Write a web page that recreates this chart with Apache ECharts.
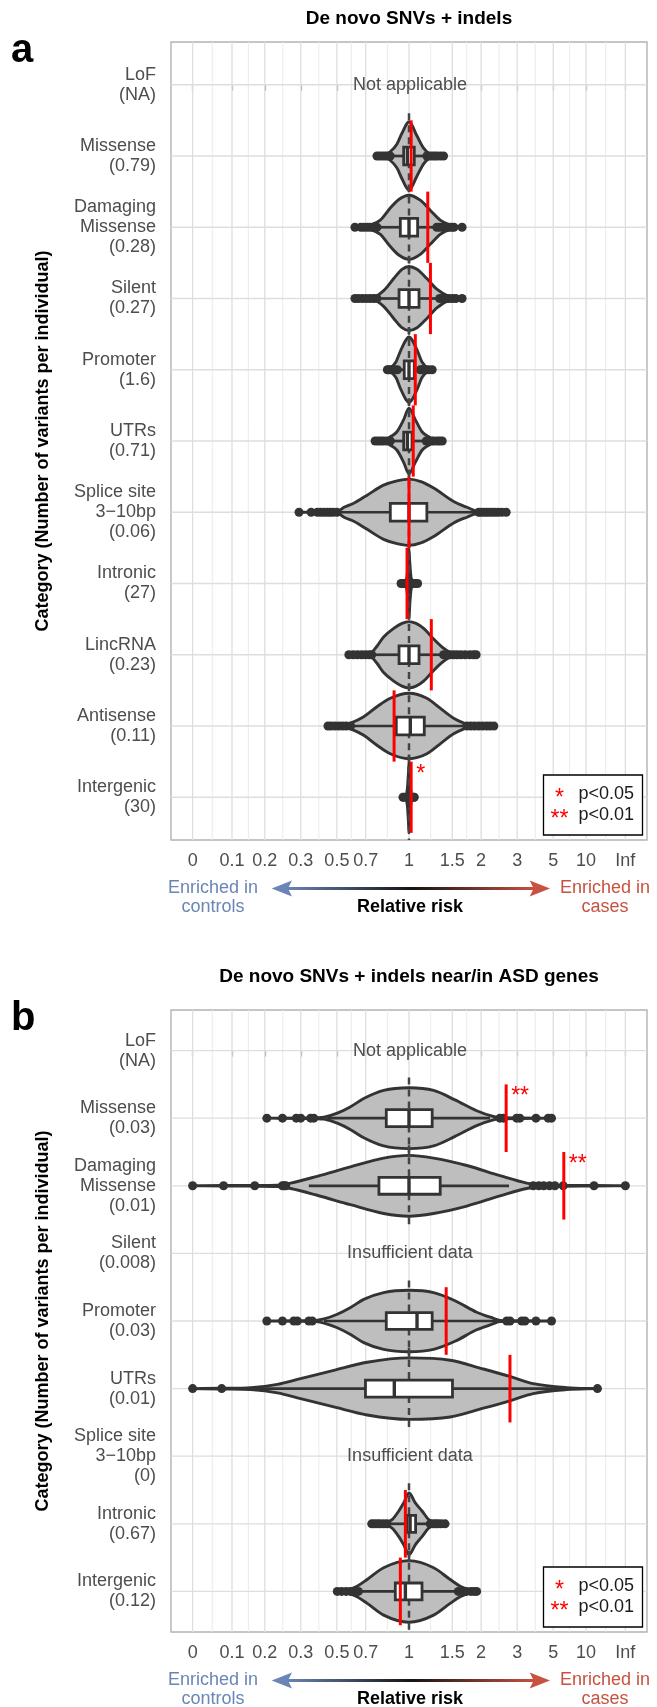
<!DOCTYPE html>
<html>
<head>
<meta charset="utf-8">
<title>De novo SNVs + indels</title>
<script src="https://cdn.jsdelivr.net/npm/echarts@6/dist/echarts.min.js"></script>
<style>
    * { margin: 0; padding: 0 }
    html, body { width: 100%; height: 100%; background: #fff; }
    #chart { width: 657px; height: 1707px; }
</style>
</head>
<body>
<div id="chart"></div>
<script>
const FONT = "'Liberation Sans', Arial, Helvetica, sans-serif";

// x axis: relative risk, drawn on a (rr-1)/(rr+1) scale
const tickLabels = ['0', '0.1', '0.2', '0.3', '0.5', '0.7', '1', '1.5', '2', '3', '5', '10', 'Inf'];
const tickRR = [0, 0.1, 0.2, 1 / 3, 0.5, 2 / 3, 1, 1.5, 2, 3, 5, 10, Infinity];

// ---- panel a ----
const catsA = ['LoF\n(NA)', 'Missense\n(0.79)', 'Damaging\nMissense\n(0.28)', 'Silent\n(0.27)', 'Promoter\n(1.6)',
    'UTRs\n(0.71)', 'Splice site\n3\u221210bp\n(0.06)', 'Intronic\n(27)', 'LincRNA\n(0.23)', 'Antisense\n(0.11)', 'Intergenic\n(30)'];
const violinRRA = [null,
    [0.742, 0.793, 0.84, 0.895, 0.937, 1.0, 1.077, 1.145, 1.2, 1.295, 1.38],
    [0.60, 0.655, 0.697, 0.766, 0.841, 0.91, 1.0, 1.11, 1.217, 1.337, 1.47, 1.55, 1.65],
    [0.60, 0.66, 0.72, 0.79, 0.868, 0.937, 1.0, 1.077, 1.18, 1.295, 1.47, 1.55, 1.65],
    [0.818, 0.831, 0.886, 0.926, 0.973, 1.0, 1.028, 1.08, 1.128, 1.203, 1.24],
    [0.729, 0.793, 0.841, 0.895, 0.952, 1.0, 1.06, 1.128, 1.2, 1.26, 1.363],
    [0.326, 0.405, 0.502, 0.538, 0.596, 0.676, 0.79, 0.895, 1.0, 1.117, 1.257, 1.52, 1.73, 1.953, 2.63],
    [0.929, 0.95, 0.98, 0.993, 1.0, 1.007, 1.02, 1.05, 1.083],
    [0.565, 0.64, 0.689, 0.742, 0.79, 0.868, 0.937, 1.0, 1.067, 1.145, 1.257, 1.358, 1.47, 1.524, 1.7, 1.9],
    [0.455, 0.5, 0.538, 0.575, 0.654, 0.742, 0.841, 1.0, 1.18, 1.337, 1.52, 1.68, 1.79, 2.0, 2.29],
    [0.946, 0.965, 0.985, 0.995, 1.0, 1.005, 1.015, 1.035, 1.05]];
const violinWA = [null,
    [0, 0.01, 0.06, 0.17, 0.32, 0.48, 0.28, 0.11, 0.04, 0.01, 0],
    [0, 0.01, 0.03, 0.1, 0.27, 0.39, 0.45, 0.38, 0.24, 0.1, 0.03, 0.01, 0],
    [0, 0.01, 0.02, 0.11, 0.28, 0.41, 0.45, 0.41, 0.28, 0.13, 0.02, 0.01, 0],
    [0, 0.01, 0.11, 0.27, 0.42, 0.46, 0.42, 0.27, 0.11, 0.01, 0],
    [0, 0.01, 0.06, 0.13, 0.3, 0.46, 0.3, 0.13, 0.06, 0.01, 0],
    [0, 0.005, 0.01, 0.07, 0.13, 0.24, 0.38, 0.44, 0.465, 0.43, 0.34, 0.15, 0.07, 0.01, 0],
    [0, 0.01, 0.08, 0.3, 0.49, 0.3, 0.08, 0.01, 0],
    [0, 0.005, 0.01, 0.12, 0.25, 0.37, 0.44, 0.465, 0.44, 0.37, 0.22, 0.11, 0.03, 0.01, 0.005, 0],
    [0, 0.005, 0.01, 0.04, 0.13, 0.27, 0.39, 0.46, 0.39, 0.25, 0.11, 0.04, 0.01, 0.005, 0],
    [0, 0.01, 0.12, 0.35, 0.5, 0.35, 0.12, 0.01, 0]];
const boxA = [null, [0.952, 0.985, 1.05], [0.923, 1.0, 1.083], [0.912, 1.0, 1.097], [0.957, 1.0, 1.05],
    [0.952, 0.985, 1.028], [0.841, 1.0, 1.18], [0.99, 1.0, 1.01], [0.912, 1.0, 1.097], [0.889, 1.012, 1.152], [0.995, 1.0, 1.005]];
const whiskA = [null, [0.84, 1.18], [0.742, 1.295], [0.742, 1.33], [0.898, 1.11], [0.841, 1.173],
    [0.5, 1.95], [0.96, 1.04], [0.706, 1.38], [0.575, 1.73], [0.97, 1.03]];
const outA = [null,
    [0.742, 0.76, 0.78, 0.80, 0.82, 0.84, 1.18, 1.21, 1.24, 1.27, 1.30, 1.34, 1.38],
    [0.60, 0.636, 0.655, 0.675, 0.695, 0.715, 0.742, 1.295, 1.33, 1.37, 1.41, 1.45, 1.49, 1.524, 1.65],
    [0.60, 0.62, 0.645, 0.67, 0.695, 0.72, 0.742, 1.33, 1.37, 1.41, 1.45, 1.5, 1.55, 1.65],
    [0.818, 0.83, 0.845, 0.86, 0.875, 0.898, 1.11, 1.13, 1.15, 1.17, 1.2, 1.24],
    [0.729, 0.75, 0.77, 0.79, 0.815, 0.841, 1.173, 1.2, 1.23, 1.26, 1.3, 1.33, 1.363],
    [0.326, 0.377, 0.405, 0.42, 0.435, 0.45, 0.465, 0.48, 0.5, 1.95, 2.0, 2.06, 2.12, 2.18, 2.25, 2.32, 2.4, 2.5, 2.63],
    [0.929, 0.945, 0.96, 1.04, 1.06, 1.083],
    [0.565, 0.59, 0.615, 0.64, 0.665, 0.69, 0.706, 1.38, 1.42, 1.47, 1.52, 1.57, 1.63, 1.7, 1.78, 1.85, 1.9],
    [0.455, 0.47, 0.49, 0.51, 0.53, 0.55, 0.575, 1.73, 1.8, 1.87, 1.95, 2.03, 2.12, 2.2, 2.29],
    [0.946, 0.955, 1.045, 1.05]];
const obsA = [null, 1.02, 1.19, 1.22, 1.06, 1.04, 1.0, 0.982, 1.23, 0.871, 1.02];
const starA = ['', '', '', '', '', '', '', '', '', '', '*'];
const noteA = ['Not applicable', '', '', '', '', '', '', '', '', '', ''];

// ---- panel b ----
const catsB = ['LoF\n(NA)', 'Missense\n(0.03)', 'Damaging\nMissense\n(0.01)', 'Silent\n(0.008)', 'Promoter\n(0.03)',
    'UTRs\n(0.01)', 'Splice site\n3\u221210bp\n(0)', 'Intronic\n(0.67)', 'Intergenic\n(0.12)'];
const violinRRB = [null,
    [0.207, 0.333, 0.40, 0.436, 0.502, 0.575, 0.654, 0.79, 1.0, 1.257, 1.54, 1.91, 2.28, 2.45, 3.1, 4.86],
    [0, 0.077, 0.1676, 0.244, 0.293, 0.404, 0.574, 0.79, 1.0, 1.257, 1.73, 2.45, 3.385, 4.06, 5.96, 12.8, Infinity],
    null,
    [0.207, 0.319, 0.40, 0.436, 0.502, 0.575, 0.654, 0.79, 1.0, 1.257, 1.54, 1.91, 2.28, 2.45, 3.31, 4.86],
    [0, 0.072, 0.155, 0.244, 0.332, 0.484, 0.676, 1.0, 1.47, 2.048, 2.75, 3.7, 6.36, 14.5],
    null,
    [0.706, 0.79, 0.855, 0.91, 0.952, 1.0, 1.06, 1.128, 1.2, 1.295, 1.4],
    [0.502, 0.555, 0.613, 0.676, 0.79, 1.0, 1.257, 1.47, 1.62, 1.79, 1.91]];
const violinWB = [null,
    [0, 0.004, 0.008, 0.015, 0.074, 0.17, 0.29, 0.41, 0.45, 0.41, 0.27, 0.11, 0.025, 0.01, 0.004, 0],
    [0, 0.004, 0.006, 0.01, 0.04, 0.14, 0.28, 0.41, 0.45, 0.41, 0.3, 0.15, 0.04, 0.015, 0.006, 0.004, 0],
    null,
    [0, 0.004, 0.01, 0.03, 0.1, 0.2, 0.32, 0.42, 0.455, 0.42, 0.3, 0.13, 0.04, 0.01, 0.004, 0],
    [0, 0.005, 0.015, 0.063, 0.147, 0.27, 0.39, 0.455, 0.42, 0.29, 0.18, 0.074, 0.015, 0],
    null,
    [0, 0.015, 0.063, 0.19, 0.31, 0.455, 0.31, 0.19, 0.063, 0.015, 0],
    [0, 0.022, 0.078, 0.177, 0.35, 0.455, 0.35, 0.177, 0.078, 0.022, 0]];
const boxB = [null, [0.81, 1.0, 1.24], [0.756, 1.0, 1.337], null, [0.81, 1.077, 1.24],
    [0.665, 0.873, 1.503], null, [0.982, 1.01, 1.063], [0.881, 0.967, 1.128]];
const whiskB = [null, [0.451, 2.198], [0.367, 2.72], null, [0.436, 2.365], [0.072, 14.5], null, [0.815, 1.217], [0.621, 1.59]];
const outB = [null,
    [0.207, 0.262, 0.315, 0.333, 0.375, 0.389, 2.45, 2.55, 2.98, 3.1, 3.84, 4.61, 4.86],
    [0, 0.077, 0.1676, 0.262, 0.268, 0.274, 3.7, 4.0, 4.3, 4.7, 5.14, 5.96, 12.8, Infinity],
    null,
    [0.207, 0.262, 0.305, 0.319, 0.367, 0.382, 2.647, 2.75, 3.174, 3.31, 3.84, 4.86],
    [0, 0.072, 14.5],
    null,
    [0.706, 0.725, 0.745, 0.765, 0.79, 0.815, 1.217, 1.25, 1.28, 1.31, 1.35, 1.4],
    [0.502, 0.525, 0.55, 0.575, 0.6, 0.621, 1.59, 1.65, 1.72, 1.8, 1.86, 1.91]];
const obsB = [null, 2.63, 6.03, null, 1.415, 2.75, null, 0.967, 0.923];
const starB = ['', '**', '**', '', '', '', '', '', ''];
const noteB = ['Not applicable', '', '', 'Insufficient data', '', '', 'Insufficient data', '', ''];

const toT = rr => rr === Infinity ? 1 : (rr - 1) / (rr + 1);
const tickT = tickRR.map(toT);
const minorT = tickT.slice(1).map((t, i) => (t + tickT[i]) / 2);

const PLOT_LEFT = 171, PLOT_W = 476;
const panels = [
    { letter: 'a', title: 'De novo SNVs + indels', titleY: 18.5, top: 42, height: 798,
      cats: catsA, violinRR: violinRRA, violinW: violinWA, box: boxA, whisk: whiskA, out: outA, obs: obsA, star: starA, note: noteA },
    { letter: 'b', title: 'De novo SNVs + indels near/in ASD genes', titleY: 977, top: 1010, height: 622,
      cats: catsB, violinRR: violinRRB, violinW: violinWB, box: boxB, whisk: whiskB, out: outB, obs: obsB, star: starB, note: noteB }
];

function labelFor(v) {
    let best = 0;
    tickT.forEach((t, i) => { if (Math.abs(t - v) < Math.abs(tickT[best] - v)) best = i; });
    return tickLabels[best];
}

function line(x1, y1, x2, y2, stroke, lineWidth, dash) {
    return { type: 'line', shape: { x1, y1, x2, y2 }, style: { stroke, lineWidth, lineDash: dash || null } };
}

// monotone cubic tangents, keeps the violin outline from overshooting
function tangents(xs, ys) {
    const n = xs.length, d = [], m = [];
    for (let i = 0; i < n - 1; i++) d.push((ys[i + 1] - ys[i]) / Math.max(xs[i + 1] - xs[i], 1e-6));
    m[0] = d[0]; m[n - 1] = d[n - 2];
    for (let i = 1; i < n - 1; i++) m[i] = d[i - 1] * d[i] <= 0 ? 0 : (d[i - 1] + d[i]) / 2;
    for (let i = 0; i < n - 1; i++) {
        if (d[i] === 0) { m[i] = 0; m[i + 1] = 0; continue; }
        const a = m[i] / d[i], b = m[i + 1] / d[i], s = a * a + b * b;
        if (s > 9) { const k = 3 / Math.sqrt(s); m[i] = k * a * d[i]; m[i + 1] = k * b * d[i]; }
    }
    return m;
}

function violinPath(xs, hs, cy) {
    const n = xs.length;
    const yt = hs.map(h => cy - h);
    const m = tangents(xs, yt);
    let s = 'M' + xs[0] + ',' + yt[0];
    for (let i = 0; i < n - 1; i++) {
        const h = (xs[i + 1] - xs[i]) / 3;
        s += ' C' + (xs[i] + h) + ',' + (yt[i] + m[i] * h) + ' ' + (xs[i + 1] - h) + ',' + (yt[i + 1] - m[i + 1] * h) + ' ' + xs[i + 1] + ',' + yt[i + 1];
    }
    for (let i = n - 2; i >= 0; i--) {
        const h = (xs[i + 1] - xs[i]) / 3;
        const yb0 = cy + hs[i], yb1 = cy + hs[i + 1];
        s += ' C' + (xs[i + 1] - h) + ',' + (yb1 + m[i + 1] * h) + ' ' + (xs[i] + h) + ',' + (yb0 - m[i] * h) + ' ' + xs[i] + ',' + yb0;
    }
    return s + ' Z';
}

function panelSeries(p, gi) {
    const ax = { xAxisIndex: gi, yAxisIndex: gi, silent: true, animation: false };
    const used = p.cats.map((c, k) => k).filter(k => p.violinRR[k]);
    const outData = [];
    used.forEach(k => p.out[k].forEach(v => outData.push([toT(v), k])));
    const notes = p.cats.map((c, k) => k).filter(k => p.note[k]);
    const stars = used.filter(k => p.star[k]);
    return [
        Object.assign({ type: 'custom', z: 1, data: [[0, 0]], renderItem: (params, api) => {
            const cs = params.coordSys, kids = [];
            minorT.forEach(t => { const x = api.coord([t, 0])[0]; kids.push(line(x, cs.y, x, cs.y + cs.height, '#ebebeb', 1)); });
            tickT.forEach(t => { const x = api.coord([t, 0])[0]; kids.push(line(x, cs.y, x, cs.y + cs.height, '#dedede', 1.3)); });
            p.cats.forEach((c, k) => { const y = api.coord([0, k])[1]; kids.push(line(cs.x, y, cs.x + cs.width, y, '#dedede', 1.3)); });
            return { type: 'group', children: kids };
        } }, ax),
        Object.assign({ type: 'custom', z: 2, data: used.map(k => [0, k]), renderItem: (params, api) => {
            const k = api.value(1);
            const band = api.size([0, 1])[1];
            const cy = api.coord([0, k])[1];
            const xs = p.violinRR[k].map(v => api.coord([toT(v), k])[0]);
            const hs = p.violinW[k].map(w => w * band);
            return { type: 'path', shape: { pathData: violinPath(xs, hs, cy) },
                style: { fill: '#bebebe', stroke: '#333', lineWidth: 2.9, lineJoin: 'round' } };
        } }, ax),
        Object.assign({ type: 'custom', z: 3, data: used.map(k => [0, k]), renderItem: (params, api) => {
            const band = api.size([0, 1])[1];
            const [x, cy] = api.coord([0, api.value(1)]);
            return line(x, cy - 0.6 * band, x, cy + 0.6 * band, '#444', 2.5, [7, 5]);
        } }, ax),
        Object.assign({ type: 'custom', z: 4, data: used.map(k => [0, k]), renderItem: (params, api) => {
            const k = api.value(1);
            const band = api.size([0, 1])[1];
            const cy = api.coord([0, k])[1];
            const X = v => api.coord([toT(v), k])[0];
            const [q1, med, q3] = p.box[k], [lo, hi] = p.whisk[k];
            const hb = 0.125 * band;
            return { type: 'group', children: [
                line(X(lo), cy, X(q1), cy, '#333', 2.7),
                line(X(q3), cy, X(hi), cy, '#333', 2.7),
                { type: 'rect', shape: { x: X(q1), y: cy - hb, width: X(q3) - X(q1), height: 2 * hb },
                  style: { fill: '#fff', stroke: '#333', lineWidth: 2.8 } },
                line(X(med), cy - hb, X(med), cy + hb, '#333', 3.4)
            ] };
        } }, ax),
        Object.assign({ type: 'scatter', z: 5, data: outData, symbol: 'circle', symbolSize: 9,
            itemStyle: { color: '#333', opacity: 1 } }, ax),
        Object.assign({ type: 'custom', z: 6, data: used.map(k => [toT(p.obs[k]), k]), renderItem: (params, api) => {
            const band = api.size([0, 1])[1];
            const [x, cy] = api.coord([api.value(0), api.value(1)]);
            return line(x, cy - 0.5 * band, x, cy + 0.5 * band, '#ff0000', 3);
        } }, ax),
        Object.assign({ type: 'custom', z: 7, data: stars.map(k => [toT(p.obs[k]), k]), renderItem: (params, api) => {
            const k = api.value(1);
            const band = api.size([0, 1])[1];
            const [x, cy] = api.coord([api.value(0), k]);
            return { type: 'text', x: x + 5, y: cy - 0.39 * band + 5,
                style: { text: p.star[k], fill: '#ff0000', font: '23px ' + FONT, align: 'left', verticalAlign: 'middle',
                         textAlign: 'left', textVerticalAlign: 'middle' } };
        } }, ax),
        Object.assign({ type: 'custom', z: 7, data: notes.map(k => [0, k]), renderItem: (params, api) => {
            const k = api.value(1);
            const [x, cy] = api.coord([0, k]);
            return { type: 'text', x: x + 1, y: cy,
                style: { text: p.note[k], fill: '#4d4d4d', font: '18px ' + FONT, align: 'center', verticalAlign: 'middle',
                         textAlign: 'center', textVerticalAlign: 'middle' } };
        } }, ax)
    ];
}

function txt(x, y, text, font, fill, align, rotation) {
    return { type: 'text', x, y, rotation: rotation || 0, z: 10,
        style: { text, font, fill, align: align || 'center', verticalAlign: 'middle',
                 textAlign: align || 'center', textVerticalAlign: 'middle', lineHeight: 19 } };
}

function panelGraphics(p) {
    const right = PLOT_LEFT + PLOT_W, bottom = p.top + p.height;
    const g = [];
    g.push(txt(409, p.titleY, p.title, 'bold 19px ' + FONT, '#000'));
    g.push(txt(11, p.top + 9, p.letter, 'bold 40px ' + FONT, '#000', 'left'));
    g.push(txt(43, p.top + p.height / 2, 'Category (Number of variants per individual)', 'bold 18px ' + FONT, '#000', 'center', Math.PI / 2));
    // significance key
    const bx = right - 103.5, by = bottom - 65;
    g.push({ type: 'rect', z: 10, shape: { x: bx, y: by, width: 99, height: 60 }, style: { fill: '#fff', stroke: '#000', lineWidth: 1.3 } });
    g.push(txt(bx + 16, by + 24, '*', '23px ' + FONT, '#ff0000'));
    g.push(txt(bx + 16, by + 45, '**', '23px ' + FONT, '#ff0000'));
    g.push(txt(bx + 35, by + 19, 'p<0.05', '18px ' + FONT, '#1a1a1a', 'left'));
    g.push(txt(bx + 35, by + 40, 'p<0.01', '18px ' + FONT, '#1a1a1a', 'left'));
    // direction arrow under the axis
    const ay = bottom + 48.5;
    g.push({ type: 'rect', z: 10, shape: { x: 286, y: ay - 1.5, width: 250, height: 3 },
        style: { fill: new echarts.graphic.LinearGradient(0, 0, 1, 0, [
            { offset: 0, color: '#6a85b6' }, { offset: 0.5, color: '#141414' }, { offset: 1, color: '#c9513f' }]) } });
    g.push({ type: 'polygon', z: 10, shape: { points: [[271.7, ay], [292, ay - 8], [288, ay], [292, ay + 8]] }, style: { fill: '#6a85b6' } });
    g.push({ type: 'polygon', z: 10, shape: { points: [[550, ay], [529.7, ay - 8], [533.7, ay], [529.7, ay + 8]] }, style: { fill: '#c9513f' } });
    g.push(txt(213, ay + 9.5, 'Enriched in\ncontrols', '18px ' + FONT, '#6a85b6'));
    g.push(txt(605, ay + 9.5, 'Enriched in\ncases', '18px ' + FONT, '#c9513f'));
    g.push(txt(410, ay + 18.5, 'Relative risk', 'bold 18px ' + FONT, '#000'));
    return g;
}

const option = {
    animation: false,
    backgroundColor: '#fff',
    textStyle: { fontFamily: FONT },
    grid: panels.map(p => ({ left: PLOT_LEFT, top: p.top, width: PLOT_W, height: p.height, show: true,
        borderColor: '#b3b3b3', borderWidth: 1.4, backgroundColor: '#fff', containLabel: false, outerBoundsMode: 'none' })),
    xAxis: panels.map((p, i) => ({
        type: 'value', gridIndex: i, min: -1.1, max: 1.1, position: 'bottom',
        axisLine: { show: false }, splitLine: { show: false },
        axisTick: { show: true, customValues: tickT, length: 6, lineStyle: { color: '#a8a8a8', width: 1.3 } },
        axisLabel: { customValues: tickT, formatter: v => labelFor(v), fontSize: 18, color: '#4d4d4d',
            fontFamily: FONT, margin: 12, hideOverlap: false }
    })),
    yAxis: panels.map((p, i) => ({
        type: 'value', gridIndex: i, min: -0.6, max: p.cats.length - 0.4, inverse: true,
        axisLine: { show: false }, splitLine: { show: false },
        axisTick: { show: true, customValues: p.cats.map((c, k) => k), length: 6, lineStyle: { color: '#a8a8a8', width: 1.3 } },
        axisLabel: { customValues: p.cats.map((c, k) => k), formatter: v => p.cats[Math.round(v)], fontSize: 18, lineHeight: 20,
            color: '#4d4d4d', fontFamily: FONT, align: 'right', margin: 15, hideOverlap: false }
    })),
    series: panels.flatMap((p, i) => panelSeries(p, i)),
    graphic: { elements: panels.flatMap(p => panelGraphics(p)) }
};

const chart = echarts.init(document.getElementById('chart'));
chart.setOption(option);
</script>
</body>
</html>
